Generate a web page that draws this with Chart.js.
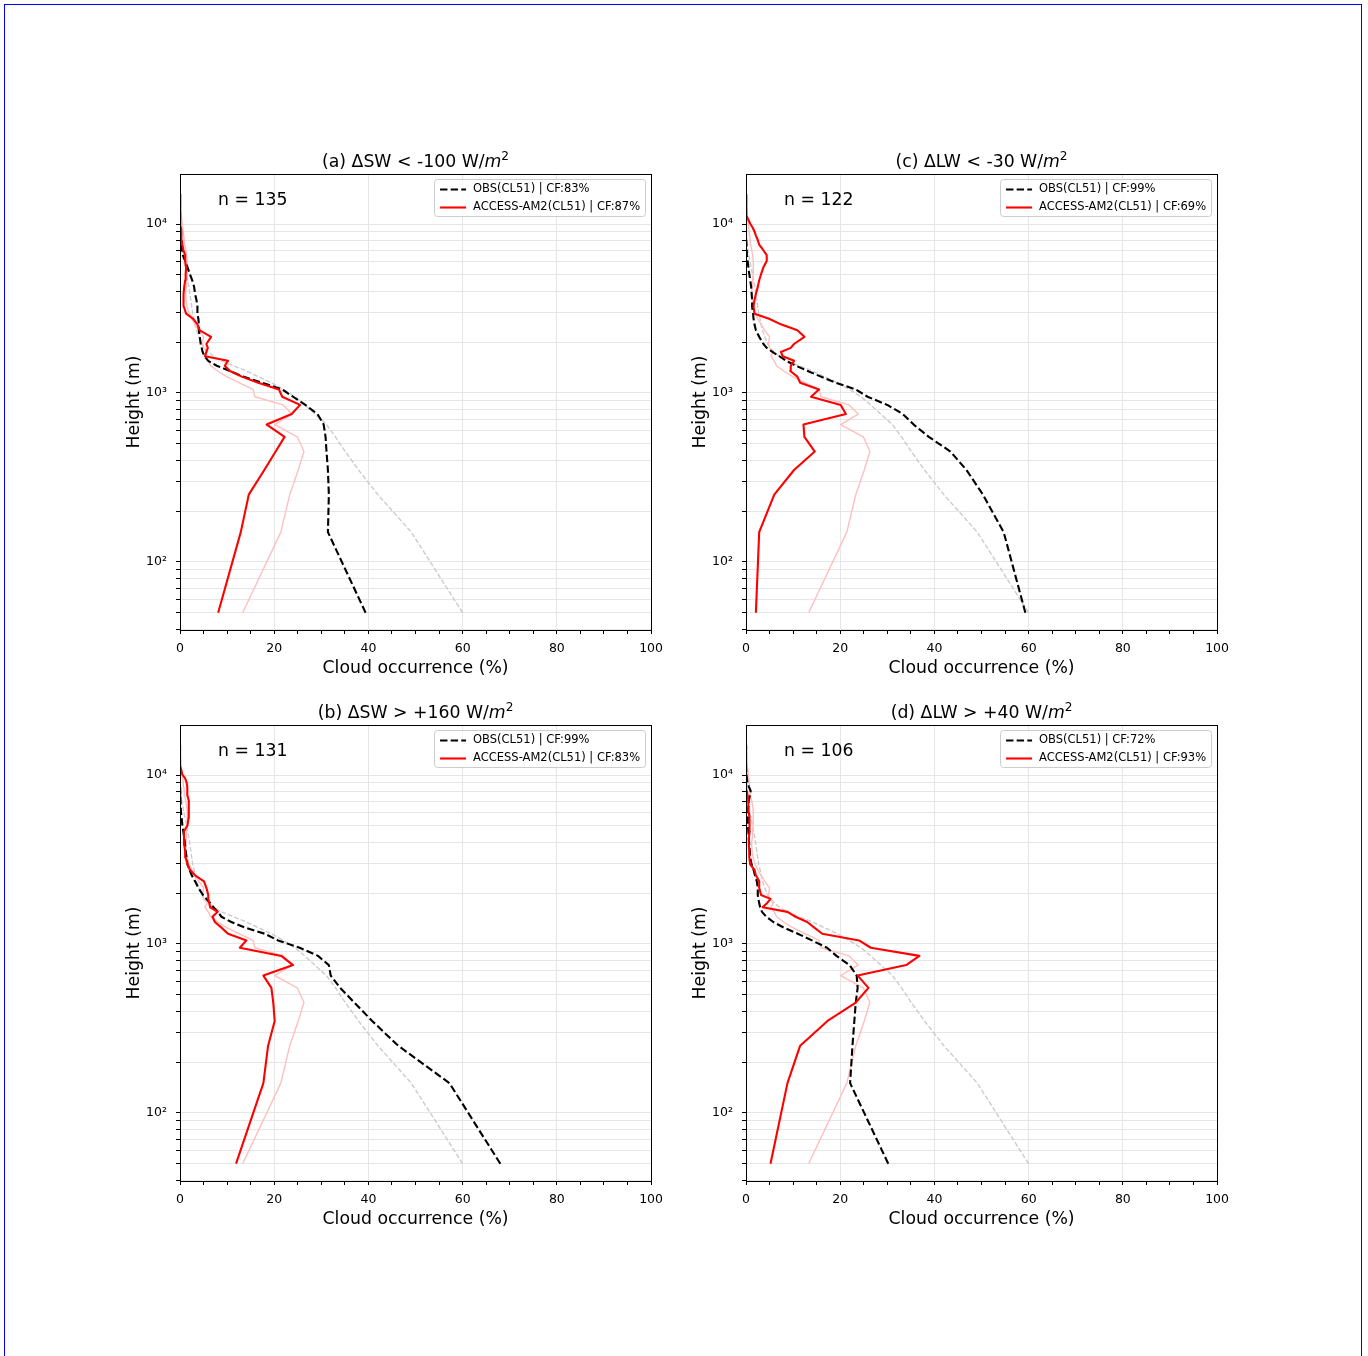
<!DOCTYPE html>
<html>
<head>
<meta charset="utf-8">
<title>Cloud occurrence profiles</title>
<script src="https://cdn.jsdelivr.net/npm/chart.js@4.4.1/dist/chart.umd.min.js"></script>
<style>
  html, body { margin: 0; padding: 0; background: #fff; }
  body { width: 1368px; height: 1356px; position: relative; overflow: hidden; }
  .frame { position: absolute; left: 4px; top: 4px; width: 1356px; height: 1400px; border: 1px solid #0000ff; }
  .panel { position: absolute; width: 570px; height: 560px; }
</style>
</head>
<body>
<div class="frame"></div>
<div class="panel" style="left:100px;top:140px"><canvas id="panelA" width="570" height="560"></canvas></div>
<div class="panel" style="left:666px;top:140px"><canvas id="panelC" width="570" height="560"></canvas></div>
<div class="panel" style="left:100px;top:691px"><canvas id="panelB" width="570" height="560"></canvas></div>
<div class="panel" style="left:666px;top:691px"><canvas id="panelD" width="570" height="560"></canvas></div>

<script>
// height bins (m), shared by every profile
const heights = [50, 150, 250, 350, 450, 550, 650, 750, 850, 950,
  1050, 1150, 1250, 1350, 1450, 1550, 1650, 1750, 1850, 1950,
  2150, 2350, 2550, 2750, 2950, 3250, 3550, 3850, 4250, 4650,
  5050, 5550, 6050, 6550, 7050, 7550, 8050, 8550, 9050, 9550,
  10050, 11050, 12050, 13050, 14050, 15050];

// all-sky climatology (faint lines, same in every panel)
const obsClim = [60.0, 49.1, 42.0, 37.9, 35.1, 33.0, 31.1, 28.6, 26.5, 24.4,
  21.9, 19.4, 16.6, 14.1, 11.3, 8.8, 7.1, 6.0, 5.2, 4.6,
  4.0, 3.5, 3.2, 3.0, 2.7, 2.5, 2.3, 2.1, 1.9, 1.6,
  1.4, 1.1, 0.8, 0.6, 0.4, 0.3, 0.15, 0.1, 0.05, 0.05,
  0, 0, 0, 0, 0, 0];
const modClim = [13.3, 21.4, 23.3, 25.1, 26.3, 24.9, 20.1, 23.8, 21.9, 15.9,
  15.5, 12.5, 9.9, 8.0, 6.5, 6.0, 5.3, 5.8, 5.0, 4.8,
  5.0, 4.0, 3.2, 2.5, 2.0, 1.5, 1.3, 1.2, 1.3, 1.4,
  1.5, 1.6, 1.5, 1.4, 1.2, 1.0, 0.9, 0.8, 0.7, 0.6,
  0.5, 0.3, 0.1, 0.05, 0, 0];

// (a) dSW < -100
const obsA = [39.4, 31.4, 31.6, 31.4, 31.1, 30.9, 30.5, 29.2, 26.6, 24.0,
  21.7, 17.4, 13.4, 10.6, 7.8, 6.0, 5.2, 4.8, 4.6, 4.4,
  4.2, 4.0, 4.0, 3.9, 3.7, 3.7, 3.5, 3.2, 3.0, 2.6,
  2.1, 1.6, 1.1, 0.6, 0.4, 0.2, 0.1, 0.1, 0.05, 0,
  0, 0, 0, 0, 0, 0];
const modA = [8.1, 12.9, 14.6, 17.9, 20.3, 22.2, 18.4, 23.7, 25.5, 21.7,
  21.0, 16.6, 13.1, 10.6, 9.5, 10.2, 5.3, 5.6, 5.9, 5.6,
  6.6, 4.2, 3.7, 2.8, 1.3, 0.8, 0.7, 0.8, 0.9, 1.1,
  1.2, 1.3, 1.1, 1.1, 0.7, 0.5, 0.35, 0.3, 0.3, 0.2,
  0.15, 0.1, 0.1, 0, 0, 0];

// (b) dSW > +160
const obsB = [68.0, 57.2, 46.3, 40.8, 37.0, 34.0, 32.0, 31.6, 29.3, 25.4,
  20.8, 18.0, 13.8, 10.9, 8.8, 8.0, 7.1, 6.4, 5.6, 4.9,
  3.9, 3.2, 2.5, 2.0, 1.6, 1.4, 1.2, 1.1, 0.9, 0.7,
  0.5, 0.35, 0.2, 0.15, 0.1, 0.1, 0.05, 0, 0, 0,
  0, 0, 0, 0, 0, 0];
const modB = [11.9, 17.7, 18.7, 20.1, 19.8, 19.4, 17.7, 24.0, 21.5, 12.7,
  14.1, 10.2, 8.8, 7.4, 6.9, 8.0, 6.4, 6.2, 6.0, 6.0,
  5.6, 5.1, 3.2, 2.1, 1.6, 1.2, 1.1, 0.9, 0.85, 0.85,
  1.6, 1.8, 1.9, 1.9, 1.8, 1.6, 1.6, 1.5, 1.4, 1.1,
  0.5, 0.15, 0.05, 0, 0, 0];

// (c) dLW < -30
const obsC = [59.3, 54.7, 50.3, 46.8, 43.4, 38.8, 35.6, 33.3, 30.0, 25.8,
  23.3, 19.1, 15.9, 13.1, 10.6, 8.5, 7.1, 5.6, 4.4, 3.7,
  2.8, 2.1, 1.8, 1.6, 1.5, 1.3, 1.3, 1.2, 1.1, 0.9,
  0.7, 0.5, 0.35, 0.2, 0.15, 0.1, 0.05, 0, 0, 0,
  0, 0, 0, 0, 0, 0];
const modC = [2.1, 2.8, 6.0, 10.2, 14.6, 12.4, 12.2, 21.2, 20.1, 13.8,
  15.5, 11.5, 10.9, 9.4, 9.5, 10.2, 7.8, 7.4, 9.5, 10.2,
  12.4, 10.9, 7.4, 4.9, 1.8, 1.6, 1.8, 2.1, 2.5, 2.8,
  3.2, 3.7, 4.4, 4.4, 3.6, 2.8, 2.5, 2.1, 1.8, 1.4,
  0.9, 0.2, 0.15, 0.1, 0.05, 0];

// (d) dLW > +40
const obsD = [30.2, 22.1, 22.6, 23.0, 23.3, 23.7, 23.5, 22.0, 19.2, 17.2,
  14.0, 11.0, 8.0, 5.8, 4.3, 3.4, 3.0, 2.8, 2.6, 2.5,
  2.5, 2.3, 1.9, 1.6, 1.2, 0.9, 0.8, 0.7, 0.6, 0.5,
  0.4, 0.4, 0.4, 0.5, 0.6, 0.8, 1.0, 0.6, 0.3, 0.2,
  0.1, 0, 0, 0, 0, 0];
const modD = [5.2, 8.8, 11.5, 17.3, 23.3, 26.0, 23.7, 34.0, 36.8, 26.5,
  24.0, 16.2, 14.5, 13.0, 10.5, 8.8, 3.5, 4.5, 5.2, 3.2,
  2.8, 2.8, 2.1, 1.8, 0.9, 0.7, 0.7, 0.6, 0.6, 0.8,
  0.8, 0.7, 0.6, 0.5, 0.5, 0.35, 0.2, 0.15, 0.1, 0.05,
  0, 0, 0, 0, 0, 0];

// axis ticks
const xTicks = [0, 5, 10, 15, 20, 25, 30, 35, 40, 45, 50, 55, 60, 65, 70, 75, 80, 85, 90, 95, 100];
const xLabelled = [0, 20, 40, 60, 80, 100];
const yTicks = [40, 50, 60, 70, 80, 90, 100, 200, 300, 400, 500, 600, 700, 800, 900,
  1000, 2000, 3000, 4000, 5000, 6000, 7000, 8000, 9000, 10000];
const yLabelled = [100, 1000, 10000];
const yLabels = ['10²', '10³', '10⁴'];

// panel annotations
const panelIds = ['panelA', 'panelB', 'panelC', 'panelD'];
const panelTitles = ['(a) ΔSW < -100 W/', '(b) ΔSW > +160 W/', '(c) ΔLW < -30 W/', '(d) ΔLW > +40 W/'];
const sampleCounts = [135, 131, 122, 106];
const obsCF = [83, 99, 99, 72];
const modCF = [87, 83, 69, 93];
const obsSeries = [obsA, obsB, obsC, obsD];
const modSeries = [modA, modB, modC, modD];

const FONT = "'DejaVu Sans', sans-serif";
const gridColor = '#e6e6e6';

Chart.defaults.font.family = FONT;
Chart.defaults.color = '#000';

// frame, "n = ..", legend box and title with italic m and superscript
const panelDecor = {
  id: 'panelDecor',
  afterDraw(chart, args, opts) {
    const { ctx, chartArea: a } = chart;
    ctx.save();

    ctx.strokeStyle = '#000';
    ctx.lineWidth = 1;
    ctx.setLineDash([]);
    ctx.strokeRect(Math.round(a.left) + 0.5, Math.round(a.top) + 0.5,
      Math.round(a.right - a.left), Math.round(a.bottom - a.top));

    ctx.fillStyle = '#000';
    ctx.textBaseline = 'middle';
    ctx.textAlign = 'left';
    ctx.font = `17.3px ${FONT}`;
    ctx.fillText('n = ' + opts.n, a.left + 38, a.top + 27);

    // legend
    const entries = chart.data.datasets.filter(d => d.label);
    ctx.font = `11.5px ${FONT}`;
    const textW = Math.max(...entries.map(d => ctx.measureText(d.label).width));
    const boxW = 39 + textW + 5, boxH = 37;
    const bx = a.right - 6 - boxW, by = a.top + 5;
    ctx.beginPath();
    ctx.roundRect(bx + 0.5, by + 0.5, boxW, boxH, 3);
    ctx.fillStyle = 'rgba(255,255,255,0.8)';
    ctx.fill();
    ctx.strokeStyle = '#cccccc';
    ctx.stroke();
    entries.forEach((d, i) => {
      const y = by + 10.5 + i * 18;
      ctx.beginPath();
      ctx.setLineDash(d.borderDash || []);
      ctx.strokeStyle = d.borderColor;
      ctx.lineWidth = d.borderWidth;
      ctx.moveTo(bx + 6, y);
      ctx.lineTo(bx + 32, y);
      ctx.stroke();
      ctx.setLineDash([]);
      ctx.fillStyle = '#000';
      ctx.fillText(d.label, bx + 39, y);
    });

    // title
    const size = 17.3;
    const parts = [
      { text: opts.title, font: `${size}px ${FONT}`, dy: 0 },
      { text: 'm', font: `italic ${size}px ${FONT}`, dy: 0 },
      { text: '2', font: `${(size * 0.7).toFixed(1)}px ${FONT}`, dy: -size * 0.42 }
    ];
    let total = 0;
    parts.forEach(p => { ctx.font = p.font; p.w = ctx.measureText(p.text).width; total += p.w; });
    let x = (a.left + a.right) / 2 - total / 2;
    const base = a.top - 7;
    ctx.textBaseline = 'alphabetic';
    parts.forEach(p => {
      ctx.font = p.font;
      ctx.fillText(p.text, x, base + p.dy);
      x += p.w;
    });
    ctx.restore();
  }
};

function profile(vals) {
  return heights.map((h, i) => ({ x: vals[i], y: h }));
}

function drawPanel(i) {
  const canvas = document.getElementById(panelIds[i]);
  if (!canvas) return;
  const old = Chart.getChart(canvas);
  if (old) old.destroy();

  new Chart(canvas, {
    type: 'line',
    data: {
      datasets: [
        { data: profile(obsClim), borderColor: '#cccccc', borderDash: [4.8, 2.1], borderWidth: 1.4, order: 4 },
        { data: profile(modClim), borderColor: '#ffbfbf', borderWidth: 1.4, order: 3 },
        { label: 'OBS(CL51) | CF:' + obsCF[i] + '%', data: profile(obsSeries[i]),
          borderColor: '#000000', borderDash: [7.4, 3.2], borderWidth: 2.1, order: 2 },
        { label: 'ACCESS-AM2(CL51) | CF:' + modCF[i] + '%', data: profile(modSeries[i]),
          borderColor: '#ff0000', borderWidth: 2.1, order: 1 }
      ]
    },
    options: {
      responsive: false,
      animation: false,
      events: [],
      layout: { padding: { left: 0, top: 34, right: 18, bottom: 0 } },
      elements: {
        point: { radius: 0 },
        line: { tension: 0, fill: false, borderJoinStyle: 'round' }
      },
      plugins: {
        legend: { display: false },
        tooltip: { enabled: false },
        panelDecor: { title: panelTitles[i], n: sampleCounts[i] }
      },
      scales: {
        x: {
          type: 'linear', min: 0, max: 100,
          afterBuildTicks: s => { s.ticks = xTicks.map(v => ({ value: v })); },
          afterFit: s => { s.height = 70; },
          border: { display: false },
          grid: {
            color: c => (c.tick && xLabelled.includes(c.tick.value) ? gridColor : 'rgba(0,0,0,0)'),
            tickColor: '#000', tickLength: 4
          },
          ticks: {
            callback: v => (xLabelled.includes(v) ? String(v) : ''),
            autoSkip: false, maxRotation: 0, padding: 7,
            font: { size: 12.5 }, color: '#000'
          },
          title: {
            display: true, text: 'Cloud occurrence (%)', color: '#000',
            font: { size: 17.3 }, padding: { top: 0, bottom: 21.6 }
          }
        },
        y: {
          type: 'logarithmic', min: 39.5, max: 19800,
          afterBuildTicks: s => { s.ticks = yTicks.map(v => ({ value: v })); },
          afterFit: s => { s.width = 80; },
          border: { display: false },
          grid: { color: gridColor, tickColor: '#000', tickLength: 4 },
          ticks: {
            callback: v => { const k = yLabelled.indexOf(v); return k >= 0 ? yLabels[k] : ''; },
            autoSkip: false, padding: 9,
            font: { size: 12.5 }, color: '#000'
          },
          title: {
            display: true, text: 'Height (m)', color: '#000',
            font: { size: 17.3 }, padding: { top: 24.6, bottom: 0 }
          }
        }
      }
    },
    plugins: [panelDecor]
  });
}

const renderAll = () => panelIds.forEach((id, i) => drawPanel(i));

if (document.readyState === 'complete') {
  renderAll();
} else {
  window.addEventListener('load', renderAll);
}
</script>
</body>
</html>
